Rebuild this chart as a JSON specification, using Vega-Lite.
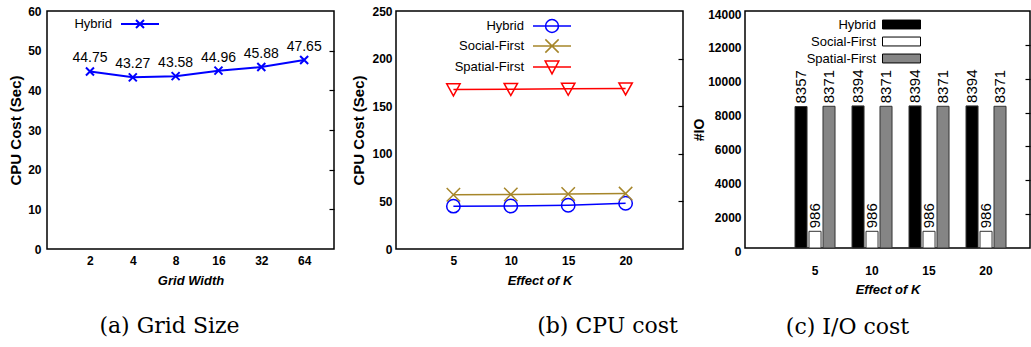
{
  "$schema": "https://vega.github.io/schema/vega-lite/v6.json",
  "background": "white",
  "padding": {"left": 7, "top": 4, "right": 2, "bottom": 2},
  "spacing": 62,
  "bounds": "flush",
  "resolve": {"scale": {"color": "independent", "fill": "independent", "shape": "independent"}, "legend": {"color": "independent", "fill": "independent"}},
  "config": {
    "font": "Liberation Sans",
    "view": {"stroke": "black", "strokeWidth": 1.5},
    "axis": {"domain": false, "grid": false, "ticks": false, "labelFont": "Liberation Sans", "labelFontWeight": "bold", "labelFontSize": 12, "labelColor": "black", "titleColor": "black", "titleFont": "Liberation Sans", "titleFontWeight": "bold", "tickColor": "black", "tickWidth": 1.2},
    "axisX": {"labelAngle": 0, "titleFontStyle": "italic", "titleFontSize": 13},
    "axisY": {"titleFontSize": 15},
    "legend": {"labelFont": "Liberation Sans", "labelFontSize": 13, "labelColor": "black", "labelAlign": "right", "title": null},
    "title": {"font": "DejaVu Serif", "fontSize": 22, "fontWeight": "normal", "color": "black", "orient": "bottom", "anchor": "middle"}
  },
  "hconcat": [
    {
      "width": 287,
      "height": 238,
      "title": {"text": "(a) Grid Size", "dx": -21, "offset": 29},
      "data": {"values": [
        {"grid": 2, "cpu": 44.75, "series": "Hybrid"},
        {"grid": 4, "cpu": 43.27, "series": "Hybrid"},
        {"grid": 8, "cpu": 43.58, "series": "Hybrid"},
        {"grid": 16, "cpu": 44.96, "series": "Hybrid"},
        {"grid": 32, "cpu": 45.88, "series": "Hybrid"},
        {"grid": 64, "cpu": 47.65, "series": "Hybrid"}
      ]},
      "resolve": {"axis": {"y": "independent"}},
      "encoding": {
        "x": {"field": "grid", "type": "ordinal", "scale": {"type": "point", "padding": 0.85, "align": 0.59}, "axis": {"title": "Grid Width", "labelPadding": 6, "titlePadding": 8}}
      },
      "layer": [
        {
          "mark": {"type": "line", "strokeWidth": 2},
          "encoding": {
            "y": {"field": "cpu", "type": "quantitative", "scale": {"domain": [0, 60], "nice": false}, "axis": {"title": "CPU Cost (Sec)", "values": [0, 10, 20, 30, 40, 50, 60], "labelPadding": 6, "titlePadding": 4}},
            "color": {"field": "series", "type": "nominal", "scale": {"domain": ["Hybrid"], "range": ["#0000ff"]},
              "legend": {"orient": "none", "legendX": 82.5, "legendY": 2.5, "symbolType": "M-2,0L2,0M-0.42,-0.42L0.42,0.42M-0.42,0.42L0.42,-0.42", "symbolSize": 361, "symbolStrokeWidth": 2, "labelOffset": -38.5}}
          }
        },
        {
          "mark": {"type": "point", "shape": "M-1,-1L1,1M-1,1L1,-1", "size": 64, "filled": false, "strokeWidth": 2, "color": "#0000ff", "opacity": 1},
          "encoding": {"y": {"field": "cpu", "type": "quantitative", "scale": {"domain": [0, 60], "nice": false}, "axis": null}}
        },
        {
          "mark": {"type": "text", "dy": -13, "fontSize": 14, "font": "Liberation Sans", "color": "black"},
          "encoding": {
            "y": {"field": "cpu", "type": "quantitative", "scale": {"domain": [0, 60], "nice": false}, "axis": {"orient": "right", "labels": false, "ticks": true, "tickSize": -5, "title": null, "values": [10, 20, 30, 40, 50]}},
            "text": {"field": "cpu", "type": "quantitative", "format": ".2f"}
          }
        }
      ]
    },
    {
      "width": 287,
      "height": 238,
      "title": {"text": "(b) CPU cost", "dx": 68, "offset": 29},
      "data": {"values": [
        {"K": 5, "series": "Hybrid", "cpu": 45.0},
        {"K": 10, "series": "Hybrid", "cpu": 45.2},
        {"K": 15, "series": "Hybrid", "cpu": 46.0},
        {"K": 20, "series": "Hybrid", "cpu": 48.0},
        {"K": 5, "series": "Social-First", "cpu": 57.0},
        {"K": 10, "series": "Social-First", "cpu": 57.3},
        {"K": 15, "series": "Social-First", "cpu": 57.8},
        {"K": 20, "series": "Social-First", "cpu": 58.2},
        {"K": 5, "series": "Spatial-First", "cpu": 167.5},
        {"K": 10, "series": "Spatial-First", "cpu": 167.9},
        {"K": 15, "series": "Spatial-First", "cpu": 168.2},
        {"K": 20, "series": "Spatial-First", "cpu": 168.5}
      ]},
      "resolve": {"axis": {"y": "independent"}},
      "encoding": {
        "x": {"field": "K", "type": "quantitative", "scale": {"domain": [0, 25]}, "axis": {"title": "Effect of K", "values": [5, 10, 15, 20], "labelPadding": 6, "titlePadding": 8}}
      },
      "layer": [
        {
          "mark": {"type": "line", "strokeWidth": 1.5},
          "encoding": {
            "y": {"field": "cpu", "type": "quantitative", "scale": {"domain": [0, 250], "nice": false}, "axis": {"title": "CPU Cost (Sec)", "values": [0, 50, 100, 150, 200, 250], "labelPadding": 4, "titlePadding": 5}},
            "color": {"field": "series", "type": "nominal", "scale": {"domain": ["Hybrid", "Social-First", "Spatial-First"], "range": ["#0000ff", "#a6862a", "#ff0000"]},
              "legend": {"orient": "none", "legendX": 145.5, "legendY": 4.5, "symbolSize": 361, "symbolStrokeWidth": 1.5, "labelOffset": -38.5, "rowPadding": -0.5,
                "encode": {"symbols": {"update": {"shape": {"signal": "datum.value === 'Hybrid' ? 'M-2,0L2,0M0.68,0A0.68,0.68 0 1,1 -0.68,0A0.68,0.68 0 1,1 0.68,0' : datum.value === 'Social-First' ? 'M-2,0L2,0M-0.7,-0.7L0.7,0.7M-0.7,0.7L0.7,-0.7' : 'M-2,0L2,0M-0.72,-0.62L0.72,-0.62L0,0.72Z'"}, "fill": {"value": "transparent"}}}}}}
          }
        },
        {
          "transform": [{"filter": "datum.series === 'Hybrid'"}],
          "mark": {"type": "point", "shape": "circle", "filled": false, "strokeWidth": 1.5, "size": 180, "opacity": 1, "color": "#0000ff"},
          "encoding": {"y": {"field": "cpu", "type": "quantitative", "scale": {"domain": [0, 250], "nice": false}, "axis": {"orient": "right", "labels": false, "ticks": true, "tickSize": -5, "title": null, "values": [50, 100, 150, 200]}}}
        },
        {
          "transform": [{"filter": "datum.series === 'Social-First'"}],
          "mark": {"type": "point", "shape": "M-1,-1L1,1M-1,1L1,-1", "filled": false, "strokeWidth": 1.5, "size": 180, "opacity": 1, "color": "#a6862a"},
          "encoding": {"y": {"field": "cpu", "type": "quantitative", "scale": {"domain": [0, 250], "nice": false}, "axis": null}}
        },
        {
          "transform": [{"filter": "datum.series === 'Spatial-First'"}],
          "mark": {"type": "point", "shape": "M-1,-0.85L1,-0.85L0,0.95Z", "filled": false, "strokeWidth": 1.5, "size": 180, "opacity": 1, "color": "#ff0000"},
          "encoding": {"y": {"field": "cpu", "type": "quantitative", "scale": {"domain": [0, 250], "nice": false}, "axis": null}}
        }
      ]
    },
    {
      "width": 285,
      "height": 237,
      "title": {"text": "(c) I/O cost", "dx": -40, "offset": 21},
      "data": {"values": [
        {"K": 5, "series": "Hybrid", "io": 8357},
        {"K": 5, "series": "Social-First", "io": 986},
        {"K": 5, "series": "Spatial-First", "io": 8371},
        {"K": 10, "series": "Hybrid", "io": 8394},
        {"K": 10, "series": "Social-First", "io": 986},
        {"K": 10, "series": "Spatial-First", "io": 8371},
        {"K": 15, "series": "Hybrid", "io": 8394},
        {"K": 15, "series": "Social-First", "io": 986},
        {"K": 15, "series": "Spatial-First", "io": 8371},
        {"K": 20, "series": "Hybrid", "io": 8394},
        {"K": 20, "series": "Social-First", "io": 986},
        {"K": 20, "series": "Spatial-First", "io": 8371}
      ]},
      "resolve": {"axis": {"y": "independent"}},
      "encoding": {
        "x": {"field": "K", "type": "ordinal", "scale": {"paddingInner": 0.298, "paddingOuter": 0.649, "align": 0.676}, "axis": {"title": "Effect of K", "labelPadding": 17, "titlePadding": 7}},
        "xOffset": {"field": "series", "type": "nominal", "scale": {"domain": ["Hybrid", "Social-First", "Spatial-First"], "paddingInner": 0.14, "paddingOuter": 0}}
      },
      "layer": [
        {
          "mark": {"type": "bar", "stroke": "#333333", "strokeWidth": 1},
          "encoding": {
            "y": {"field": "io", "type": "quantitative", "scale": {"domain": [0, 14000], "nice": false}, "axis": {"title": "#IO", "titleFontSize": 14, "values": [0, 2000, 4000, 6000, 8000, 10000, 12000, 14000], "format": "d", "labelPadding": 4, "titlePadding": 1, "labelOffset": 3}},
            "fill": {"field": "series", "type": "nominal", "scale": {"domain": ["Hybrid", "Social-First", "Spatial-First"], "range": ["#000000", "#ffffff", "#858585"]},
              "legend": {"orient": "none", "legendX": 146.5, "legendY": 3.5, "symbolType": "M-2,-0.47H2V0.47H-2Z", "symbolSize": 361, "symbolStrokeColor": "#000000", "symbolStrokeWidth": 1, "labelOffset": -35.5, "rowPadding": -1.5}}
          }
        },
        {
          "mark": {"type": "text", "angle": 270, "align": "left", "baseline": "middle", "dx": 3, "fontSize": 15, "font": "Liberation Sans", "color": "black"},
          "encoding": {
            "y": {"field": "io", "type": "quantitative", "scale": {"domain": [0, 14000], "nice": false}, "axis": {"orient": "right", "labels": false, "ticks": true, "tickSize": -5, "title": null, "values": [2000, 4000, 6000, 8000, 10000, 12000]}},
            "text": {"field": "io", "type": "quantitative", "format": "d"}
          }
        }
      ]
    }
  ]
}
